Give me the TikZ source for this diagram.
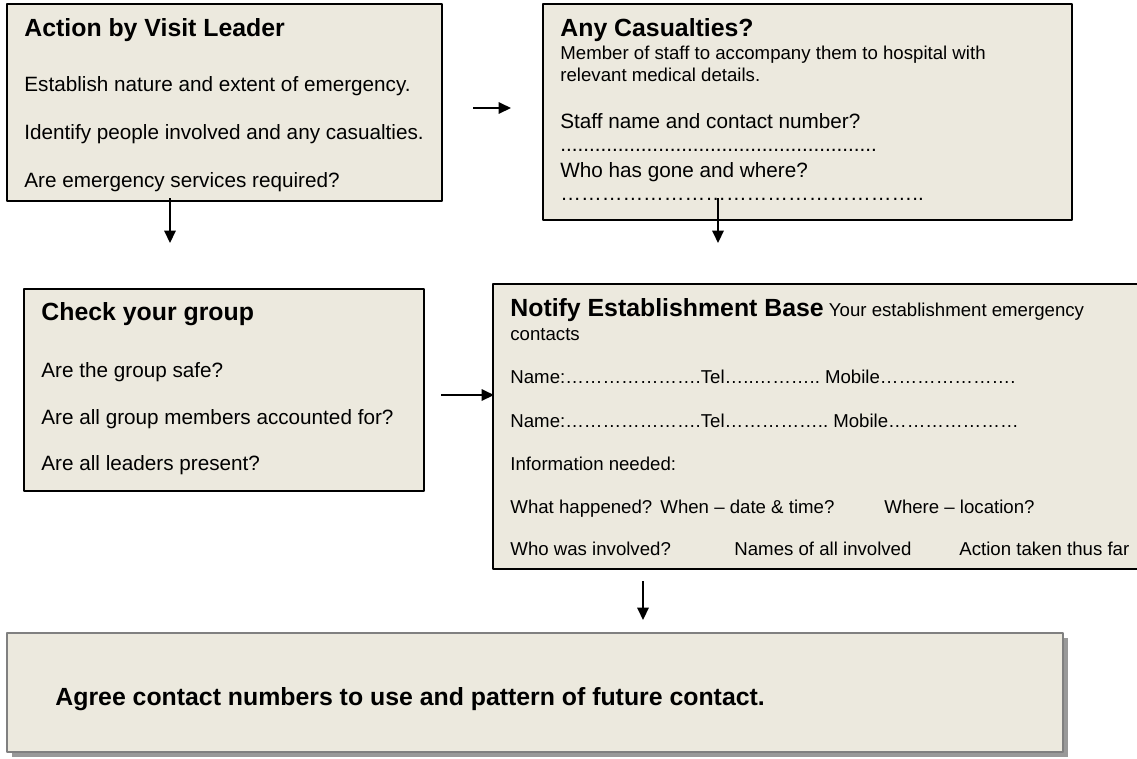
\documentclass[tikz,border=0pt]{standalone}
\usepackage{fontspec}
\setmainfont{Liberation Sans}
\usetikzlibrary{arrows.meta,fit,shadows}
\definecolor{panelfill}{RGB}{236,233,222}
\newcommand\headfont{\bfseries\fontsize{12}{14}\selectfont}
\newcommand\bodyfont{\fontsize{10}{12}\selectfont}
\newcommand\notefont{\fontsize{9}{11}\selectfont}
\begin{document}
\begin{tikzpicture}[x=0.4831pt,y=-0.4831pt,line join=round,
  panel/.style={draw,line width=1pt,fill=panelfill,inner sep=0pt},
  headtxt/.style={anchor=base west,inner sep=0pt,font=\headfont},
  bodytxt/.style={anchor=base west,inner sep=0pt,font=\bodyfont},
  notetxt/.style={anchor=base west,inner sep=0pt,font=\notefont},
  flow/.style={line width=1pt,-{Triangle[length=6pt,width=5.5pt]}}]
  \useasboundingbox (0,0) rectangle (1137,758);
  \node[panel,fit={(7,4) (442,201)}] (visit) {};
  \node[headtxt] (visithead) at (24,36) {Action by Visit Leader};
  \node[bodytxt] (visit1) at (24,91) {Establish nature and extent of emergency.};
  \node[bodytxt] (visit2) at (24,139) {Identify people involved and any casualties.};
  \node[bodytxt] (visit3) at (24,187) {Are emergency services required?};

  \node[panel,fit={(543,4) (1072,220)}] (casualty) {};
  \node[headtxt] (casualhead) at (560,36) {Any Casualties?};
  \node[notetxt] (casual1) at (560,59) {Member of staff to accompany them to hospital with};
  \node[notetxt] (casual2) at (560,81) {relevant medical details.};
  \node[bodytxt] (casual3) at (560,128) {Staff name and contact number?};
  \node[bodytxt] (casual4) at (560,151) {.......................................................};
  \node[bodytxt] (casual5) at (560,177) {Who has gone and where?};
  \node[bodytxt] (casual6) at (560,200) {{…}{…}{…}{…}{…}{…}{…}{…}{…}{…}{…}{…}{…}{…}{…}{…}{…}..};

  \node[panel,fit={(24,289) (424,491)}] (group) {};
  \node[headtxt] (grouphead) at (41,320) {Check your group};
  \node[bodytxt] (group1) at (41,377) {Are the group safe?};
  \node[bodytxt] (group2) at (41,424) {Are all group members accounted for?};
  \node[bodytxt] (group3) at (41,470) {Are all leaders present?};

  \node[panel,fit={(493,284) (1145,569)}] (base) {};
  \node[notetxt] (basehead) at (510,316) {{\headfont Notify Establishment Base} Your establishment emergency};
  \node[notetxt] (base1) at (510,340) {contacts};
  \node[notetxt] (base2) at (510,383) {Name:{…}{…}{…}{…}{…}{…}{…}.Tel{…}..{…}{…}{…}..\ Mobile{…}{…}{…}{…}{…}{…}{…}.};
  \node[notetxt] (base3) at (510,427) {Name:{…}{…}{…}{…}{…}{…}{…}.Tel{…}{…}{…}{…}{…}..\ Mobile{…}{…}{…}{…}{…}{…}{…}};
  \node[notetxt] (base4) at (510,470) {Information needed:};
  \node[notetxt] (what) at (510,513) {What happened?};
  \node[notetxt] (when) at (660,513) {When – date \& time?};
  \node[notetxt] (where) at (884,513) {Where – location?};
  \node[notetxt] (who) at (510,555) {Who was involved?};
  \node[notetxt] (names) at (734,555) {Names of all involved};
  \node[notetxt] (taken) at (959,555) {Action taken thus far};

  \node[panel,draw=black!50,drop shadow={shadow xshift=2.4pt,shadow yshift=-2.4pt,fill=black!40,opacity=1},
    fit={(7,633) (1063,752)}] (agree) {};
  \node[headtxt] (agreetxt) at (55,705) {Agree contact numbers to use and pattern of future contact.};

  \coordinate (v2c) at (473,108);  \coordinate (v2ce) at (511,108);
  \coordinate (v2g) at (170,198);  \coordinate (v2ge) at (170,243);
  \coordinate (c2b) at (718,198);  \coordinate (c2be) at (718,243);
  \coordinate (g2b) at (441,395);  \coordinate (g2be) at (494,395);
  \coordinate (b2a) at (643,581);  \coordinate (b2ae) at (643,620);
  \draw[flow] (v2c) -- (v2ce);
  \draw[flow] (v2g) -- (v2ge);
  \draw[flow] (c2b) -- (c2be);
  \draw[flow] (g2b) -- (g2be);
  \draw[flow] (b2a) -- (b2ae);
\end{tikzpicture}
\end{document}
